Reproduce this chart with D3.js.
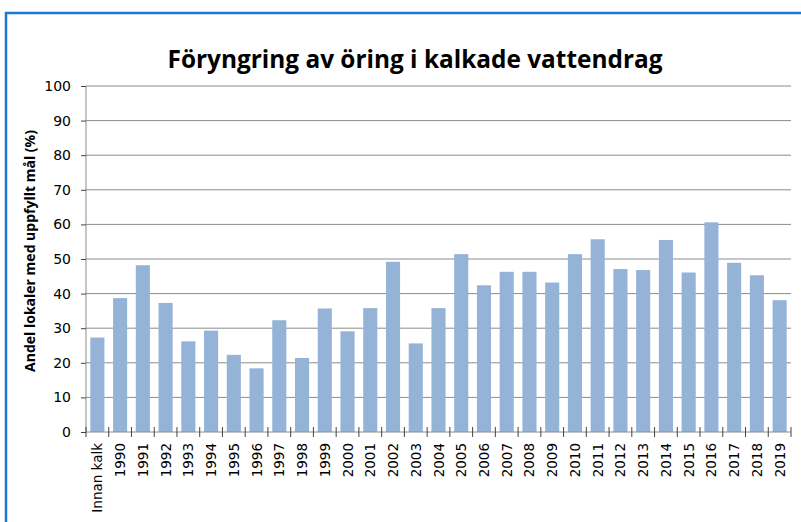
<!DOCTYPE html>
<html>
<head>
<meta charset="utf-8">
<script src="https://cdn.jsdelivr.net/npm/d3@7"></script>
<style>
  body { margin: 0; background: #fff; }
  svg { display: block; }
</style>
</head>
<body>
<div id="chart"></div>
<script>
const categories = ["Innan kalk", "1990", "1991", "1992", "1993", "1994", "1995", "1996", "1997", "1998",
  "1999", "2000", "2001", "2002", "2003", "2004", "2005", "2006", "2007", "2008", "2009",
  "2010", "2011", "2012", "2013", "2014", "2015", "2016", "2017", "2018", "2019"];
const values = [27.3, 38.7, 48.2, 37.3, 26.2, 29.3, 22.3, 18.4, 32.3, 21.4,
  35.7, 29.1, 35.8, 49.2, 25.6, 35.8, 51.4, 42.4, 46.3, 46.3, 43.2,
  51.4, 55.7, 47.1, 46.8, 55.5, 46.1, 60.6, 48.9, 45.3, 38.1];
const yTicks = [0, 10, 20, 30, 40, 50, 60, 70, 80, 90, 100];

const W = 801, H = 522;
const margin = ({top: 86, right: 10, bottom: 90, left: 86});
const width = 791 - margin.left, height = 432 - margin.top;

const svg = d3.select("#chart").append("svg")
    .attr("width", W)
    .attr("height", H);

// blue frame (only top and left visible)
svg.append("path")
    .attr("d", "M6,522 V13 H801")
    .attr("fill", "none")
    .attr("stroke", "#1f78d1")
    .attr("stroke-width", 2.5);

svg.append("text")
    .attr("x", 415)
    .attr("y", 68)
    .attr("text-anchor", "middle")
    .style("font-family", "'Open Sans', sans-serif")
    .style("font-weight", "bold")
    .style("font-size", "24.4px")
    .attr("fill", "#000")
    .text("Föryngring av öring i kalkade vattendrag");

const g = svg.append("g")
    .attr("transform", `translate(${margin.left},${margin.top})`);

const xScale = d3.scaleBand()
    .domain(categories)
    .range([0, width])
    .paddingInner(0.38)
    .paddingOuter(0.19);

const yScale = d3.scaleLinear()
    .domain([0, 100])
    .range([height, 0]);

// gridlines
g.append("g")
  .selectAll("line")
  .data(yTicks.filter(d => d > 0))
  .join("line")
    .attr("x1", 0)
    .attr("x2", width)
    .attr("y1", d => yScale(d))
    .attr("y2", d => yScale(d))
    .attr("stroke", "#8c8c8c")
    .attr("stroke-width", 1);

// bars
g.selectAll(".bar")
  .data(values)
  .join("rect")
    .attr("class", "bar")
    .attr("x", (d, i) => xScale(categories[i]))
    .attr("y", d => yScale(d))
    .attr("width", xScale.bandwidth())
    .attr("height", d => height - yScale(d))
    .attr("fill", "#95b3d7");

// y axis
const yAxis = d3.axisLeft(yScale)
    .tickValues(yTicks)
    .tickSize(5)
    .tickPadding(10);

g.append("g")
    .attr("class", "y-axis")
    .call(yAxis)
    .call(s => s.select(".domain").attr("stroke", "#8c8c8c").attr("d", `M0,${height}V0`))
    .call(s => s.selectAll(".tick line").attr("stroke", "#444").attr("x1", 0))
    .call(s => s.selectAll(".tick text")
        .style("font-family", "'DejaVu Sans', sans-serif")
        .style("font-size", "14px")
        .attr("fill", "#000"));

// x axis: boundary ticks crossing the axis line
const step = xScale.step();
const boundaries = d3.range(categories.length + 1);
const xa = g.append("g").attr("class", "x-axis").attr("transform", `translate(0,${height})`);
xa.append("line")
    .attr("x1", 0).attr("x2", width)
    .attr("stroke", "#8c8c8c");
xa.selectAll(".xtick")
  .data(boundaries)
  .join("line")
    .attr("class", "xtick")
    .attr("x1", d => d * step).attr("x2", d => d * step)
    .attr("y1", -5).attr("y2", 5)
    .attr("stroke", "#444");

xa.selectAll(".xlabel")
  .data(categories)
  .join("text")
    .attr("class", "xlabel")
    .attr("transform", d => `translate(${xScale(d) + xScale.bandwidth() / 2 + 5},11) rotate(-90)`)
    .attr("text-anchor", "end")
    .style("font-family", "'DejaVu Sans', sans-serif")
    .style("font-size", "13.5px")
    .attr("fill", "#000")
    .text(d => d);

// y label
svg.append("text")
    .attr("transform", `translate(35,251) rotate(-90)`)
    .attr("text-anchor", "middle")
    .style("font-family", "'Open Sans', sans-serif")
    .style("font-weight", "bold")
    .style("font-size", "14px")
    .attr("fill", "#000")
    .text("Andel lokaler med uppfyllt mål (%)");
</script>
</body>
</html>
